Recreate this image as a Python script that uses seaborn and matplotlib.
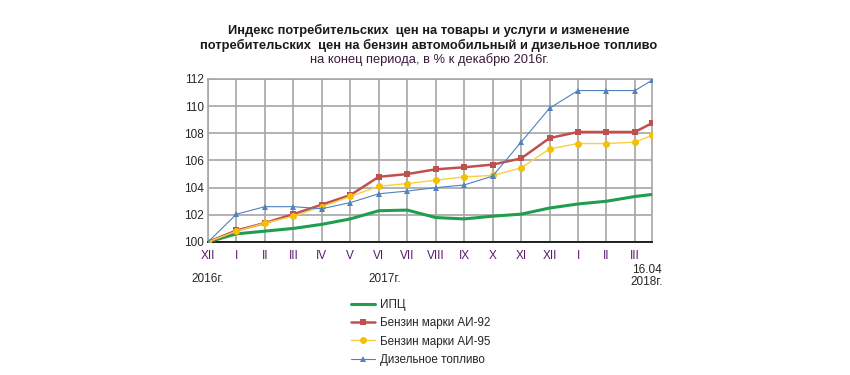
import matplotlib
matplotlib.use("Agg")
import matplotlib.pyplot as plt
import seaborn as sns
import pandas as pd

months = ["XII", "I", "II", "III", "IV", "V", "VI", "VII", "VIII", "IX", "X", "XI", "XII", "I", "II", "III"]
xpos = [0, 1, 2, 3, 4, 5, 6, 7, 8, 9, 10, 11, 12, 13, 14, 15, 15.6]

cpi = [100.0, 100.6, 100.8, 101.0, 101.3, 101.7, 102.3, 102.35, 101.8, 101.7, 101.9, 102.05, 102.5, 102.8, 103.0, 103.35, 103.5]
ai92 = [100.0, 100.85, 101.4, 102.05, 102.75, 103.45, 104.8, 105.0, 105.35, 105.5, 105.7, 106.15, 107.65, 108.1, 108.1, 108.1, 108.75]
ai95 = [100.0, 100.8, 101.4, 101.9, 102.6, 103.35, 104.1, 104.3, 104.55, 104.8, 104.9, 105.45, 106.85, 107.25, 107.25, 107.35, 107.85]
diesel = [100.0, 102.05, 102.6, 102.6, 102.45, 102.9, 103.55, 103.75, 104.0, 104.2, 104.85, 107.35, 109.85, 111.15, 111.15, 111.15, 111.9]

series_names = ["ИПЦ", "Бензин марки АИ-92", "Бензин марки АИ-95", "Дизельное топливо"]

sns.set_theme(style="white")
plt.rcParams["font.family"] = ["Liberation Sans", "DejaVu Sans"]

fig = plt.figure(figsize=(8.5, 3.75), dpi=100)
ax = fig.add_axes([208 / 850, 1 - 242 / 375, (652 - 208) / 850, (242 - 79) / 375])

styles = [
    dict(color="#1f9e4e", lw=2.2, marker=None, ms=0, mfc=None),
    dict(color="#c0504d", lw=1.8, marker="s", ms=5, mfc="#c0504d"),
    dict(color="#f7d040", lw=1.0, marker="o", ms=5, mfc="#f5c000"),
    dict(color="#4f81bd", lw=0.8, marker="^", ms=5, mfc="#4f81bd"),
]
handles = []
for name, vals, st in zip(series_names, [cpi, ai92, ai95, diesel], styles):
    df = pd.DataFrame({"x": xpos, "y": vals})
    sns.lineplot(data=df, x="x", y="y", ax=ax, color=st["color"], linewidth=st["lw"],
                 marker=st["marker"], markersize=st["ms"], markerfacecolor=st["mfc"],
                 markeredgecolor=st["mfc"], markeredgewidth=0, legend=False, zorder=3)
    h, = ax.plot([], [], color=st["color"], lw=st["lw"], marker=st["marker"],
                 markersize=st["ms"], markerfacecolor=st["mfc"], markeredgecolor=st["mfc"],
                 markeredgewidth=0)
    handles.append(h)

ax.set_xlim(0, 15.6)
ax.set_ylim(100, 112)
ax.set_yticks(range(100, 113, 2))
ax.set_xticks(range(16))
ax.set_xticklabels(months, color="#5a1a6a", fontsize=8.5)
ax.tick_params(axis="y", labelsize=8.5, pad=3, length=0)
ax.tick_params(axis="x", pad=6, length=0)
ax.set_xlabel("")
ax.set_ylabel("")
ax.grid(True, color="#a6a6a6", linewidth=1.2)
ax.set_axisbelow(True)
for s in ["top", "right", "left"]:
    ax.spines[s].set_color("#a6a6a6")
    ax.spines[s].set_linewidth(1.2)
ax.spines["bottom"].set_color("#000000")
ax.spines["bottom"].set_linewidth(1.2)

fig.text(208 / 850, 1 - 279 / 375, "2016г.", ha="center", va="center", fontsize=8.5)
fig.text(385 / 850, 1 - 279 / 375, "2017г.", ha="center", va="center", fontsize=8.5)
fig.text(647 / 850, 1 - 276 / 375, "16.04\n2018г.", ha="center", va="center", fontsize=8.5, linespacing=1.0)

fig.text(429 / 850, 1 - 30 / 375, "Индекс потребительских  цен на товары и услуги и изменение",
         ha="center", va="center", fontsize=9.3, fontweight="bold", color="#1a1a1a")
fig.text(429 / 850, 1 - 45 / 375, "потребительских  цен на бензин автомобильный и дизельное топливо",
         ha="center", va="center", fontsize=9.3, fontweight="bold", color="#1a1a1a")
fig.text(429 / 850, 1 - 60 / 375, "на конец периода, в % к декабрю 2016г.",
         ha="center", va="center", fontsize=9.3, color="#3a1a3a")

fig.legend(handles, series_names, loc="upper left", bbox_to_anchor=(346 / 850, 1 - 294 / 375),
           frameon=False, fontsize=8.4, handlelength=2.1, labelspacing=0.55, handletextpad=0.4,
           borderaxespad=0)

fig.savefig("out.png", dpi=100)
